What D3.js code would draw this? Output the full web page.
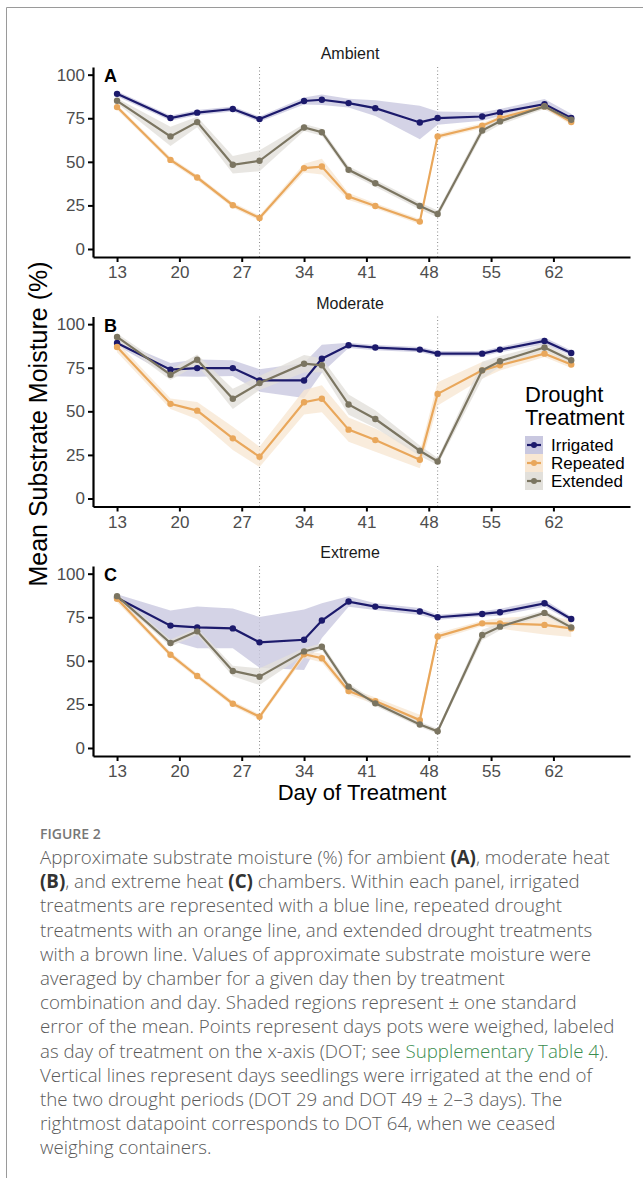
<!DOCTYPE html>
<html>
<head>
<meta charset="utf-8">
<script src="https://cdn.jsdelivr.net/npm/d3@7"></script>
<style>
  body { margin: 0; background: #fff; }
  svg { display: block; }
</style>
</head>
<body>
<div id="chart"></div>
<script>
// days the pots were weighed
const days = [13, 19, 22, 26, 29, 34, 36, 39, 42, 47, 49, 54, 56, 61, 64];
const xTicks = [13, 20, 27, 34, 41, 48, 55, 62];
const yTicks = [0, 25, 50, 75, 100];
const irrigationDays = [29, 49];
const chambers = ["Ambient", "Moderate", "Extreme"];
const letters = ["A", "B", "C"];
const treatments = ["Irrigated", "Repeated", "Extended"];

// mean substrate moisture (%) and standard error
const ambientIrrigated   = [89, 75.1, 78.2, 80.3, 74.5, 84.9, 85.6, 83.7, 80.8, 72.6, 75.1, 76, 78.3, 83.1, 75.1];
const ambientIrrigatedSE = [1.5, 1.5, 1.5, 1.5, 1.5, 2, 3, 2.5, 4.5, 9.6, 3.8, 2.5, 2, 3, 2.5];
const ambientRepeated    = [81.4, 51.1, 41, 25.1, 17.8, 46.4, 47.3, 30.1, 24.7, 15.7, 64.6, 70.7, 75.1, 81.8, 72.8];
const ambientRepeatedSE  = [1.5, 1.5, 1.5, 1.5, 1.5, 2.5, 4.5, 2, 1.5, 1.5, 1.5, 1.5, 1.5, 1.5, 1.5];
const ambientExtended    = [85, 64.6, 72.8, 48.3, 50.6, 69.7, 67, 45.4, 37.7, 24.7, 20.1, 68, 73.2, 81.8, 74.1];
const ambientExtendedSE  = [1.5, 5.5, 3, 5, 6, 2, 2, 2, 2, 2, 2, 2.5, 2, 1.5, 1.5];

const moderateIrrigated   = [89.2, 73.9, 74.8, 74.8, 67.7, 67.7, 80.2, 87.9, 86.6, 85.4, 83.1, 83.1, 85.4, 90.4, 83.5];
const moderateIrrigatedSE = [1.5, 3.8, 5, 4.5, 6.5, 10, 8, 1.5, 1.5, 1.5, 1.5, 1.5, 1.5, 2, 1.5];
const moderateRepeated    = [86.9, 54.3, 50.4, 34.5, 23.9, 55.2, 57.2, 39.5, 33.5, 22.2, 60, 73.5, 76.4, 83.1, 76.9];
const moderateRepeatedSE  = [3, 3, 5, 6.7, 5.8, 7, 7.7, 7, 6.7, 4.8, 6.7, 4.8, 3, 2, 2];
const moderateExtended    = [92.7, 71, 79.6, 57.2, 66.2, 77.3, 76.4, 53.9, 45.6, 27.4, 21.2, 73.5, 78.7, 86.6, 79.3];
const moderateExtendedSE  = [2, 3, 3, 5.8, 4, 5, 4, 5.8, 5, 3, 2, 5, 3, 2, 2];

const extremeIrrigated   = [86.2, 70.2, 69.2, 68.6, 60.6, 62.1, 73.1, 84, 81.1, 78.3, 75, 76.9, 77.9, 83, 74];
const extremeIrrigatedSE = [2, 8.6, 12, 11.4, 14.6, 17.3, 10, 3, 2, 2, 1.5, 1.5, 2, 2, 1.5];
const extremeRepeated    = [85.6, 53.5, 41.3, 25.4, 17.9, 53.8, 51.5, 32.7, 26.9, 16, 64, 71.5, 71.5, 70.6, 68.6];
const extremeRepeatedSE  = [2, 1.5, 1.5, 1.5, 1.5, 2, 2.5, 2, 2, 3, 2, 1.5, 3, 5.5, 5];
const extremeExtended    = [87.1, 60.2, 66.9, 44.2, 40.9, 55.4, 58.1, 35.2, 25.6, 13.5, 9.6, 64.8, 69.6, 77.5, 69.2];
const extremeExtendedSE  = [1.5, 2, 2, 3, 4.8, 2, 2, 2, 1.5, 1.5, 1.5, 3, 2, 1.5, 1.5];

// caption, one array per line: [text, style]
const captionLines = [
  [["Approximate substrate moisture (%) for ambient ", ""], ["(A)", "b"], [", moderate heat", ""]],
  [["(B)", "b"], [", and extreme heat ", ""], ["(C)", "b"], [" chambers. Within each panel, irrigated", ""]],
  [["treatments are represented with a blue line, repeated drought", ""]],
  [["treatments with an orange line, and extended drought treatments", ""]],
  [["with a brown line. Values of approximate substrate moisture were", ""]],
  [["averaged by chamber for a given day then by treatment", ""]],
  [["combination and day. Shaded regions represent \u00b1 one standard", ""]],
  [["error of the mean. Points represent days pots were weighed, labeled", ""]],
  [["as day of treatment on the x-axis (DOT; see ", ""], ["Supplementary Table 4", "g"], [").", ""]],
  [["Vertical lines represent days seedlings were irrigated at the end of", ""]],
  [["the two drought periods (DOT 29 and DOT 49 \u00b1 2\u20133 days). The", ""]],
  [["rightmost datapoint corresponds to DOT 64, when we ceased", ""]],
  [["weighing containers.", ""]]
];

// putting the arrays together per panel
const panelData = [
  [[ambientIrrigated, ambientIrrigatedSE], [ambientRepeated, ambientRepeatedSE], [ambientExtended, ambientExtendedSE]],
  [[moderateIrrigated, moderateIrrigatedSE], [moderateRepeated, moderateRepeatedSE], [moderateExtended, moderateExtendedSE]],
  [[extremeIrrigated, extremeIrrigatedSE], [extremeRepeated, extremeRepeatedSE], [extremeExtended, extremeExtendedSE]]
];

const lineColor = d3.scaleOrdinal(treatments, ["#1c1a6c", "#e9a75b", "#7b7561"]);
const bandColor = d3.scaleOrdinal(treatments, ["#c9c8e0", "#f8e7d3", "#e2e0db"]);

const W = 643, H = 1178;
const panelTop = 67, panelStep = 249.5, panelH = 190;
const left = 93, right = 630;

const svg = d3.select("#chart").append("svg")
    .attr("width", W)
    .attr("height", H)
    .style("font-family", "'Liberation Sans', Arial, sans-serif");

svg.append("rect").attr("width", W).attr("height", H).attr("fill", "#fff");

// card frame
svg.append("path")
    .attr("d", `M6.5,${H} V7.5 H${W}`)
    .attr("fill", "none")
    .attr("stroke", "#9a9a9a")
    .attr("stroke-width", 1);

const xScale = d3.scaleLinear().domain([10.3, 70.6]).range([left, right]);

chambers.forEach((chamber, p) => {
  const top = panelTop + p * panelStep;
  const bottom = top + panelH;
  const yScale = d3.scaleLinear().domain([-4.6, 104.4]).range([bottom, top]);
  const g = svg.append("g");

  // panel title
  g.append("text")
      .attr("x", 350).attr("y", top - 8)
      .attr("text-anchor", "middle")
      .attr("font-size", 16)
      .attr("fill", "#1a1a1a")
      .text(chamber);

  // vertical dotted lines
  g.selectAll(".vline")
    .data(irrigationDays)
    .join("line")
      .attr("x1", d => xScale(d)).attr("x2", d => xScale(d))
      .attr("y1", top).attr("y2", bottom)
      .attr("stroke", "#8a8a8a")
      .attr("stroke-width", 1)
      .attr("stroke-dasharray", "1,2.5");

  const series = treatments.map((t, i) => ({
    name: t,
    values: days.map((d, j) => ({ day: d, mean: panelData[p][i][0][j], se: panelData[p][i][1][j] }))
  }));

  const area = d3.area()
      .x(d => xScale(d.day))
      .y0(d => yScale(d.mean - d.se))
      .y1(d => yScale(d.mean + d.se));

  const line = d3.line()
      .x(d => xScale(d.day))
      .y(d => yScale(d.mean));

  g.selectAll(".band")
    .data(series)
    .join("path")
      .attr("d", d => area(d.values))
      .attr("fill", d => bandColor(d.name))
      .attr("fill-opacity", 0.8);

  series.forEach(s => {
    g.append("path")
        .attr("d", line(s.values))
        .attr("fill", "none")
        .attr("stroke", lineColor(s.name))
        .attr("stroke-width", 2.2);
    g.selectAll(null)
      .data(s.values)
      .join("circle")
        .attr("cx", d => xScale(d.day))
        .attr("cy", d => yScale(d.mean))
        .attr("r", 3.2)
        .attr("fill", lineColor(s.name));
  });

  // axes
  const yAxis = g.append("g")
      .attr("transform", `translate(${left},0)`)
      .call(d3.axisLeft(yScale).tickValues(yTicks).tickSize(5).tickSizeOuter(0));
  const xAxis = g.append("g")
      .attr("transform", `translate(0,${bottom})`)
      .call(d3.axisBottom(xScale).tickValues(xTicks).tickSize(5).tickSizeOuter(0));

  [xAxis, yAxis].forEach(ax => {
    ax.select(".domain").attr("stroke", "#000").attr("stroke-width", 2.2);
    ax.selectAll(".tick line").attr("stroke", "#000").attr("stroke-width", 2);
    ax.selectAll(".tick text")
      .attr("font-size", 17)
      .attr("font-family", "'Liberation Sans', Arial, sans-serif")
      .attr("fill", "#4d4d4d");
  });
  yAxis.selectAll(".tick text").attr("x", -8);
  xAxis.selectAll(".tick text").attr("y", 9);

  // panel letter
  g.append("text")
      .attr("x", 104).attr("y", top + 15)
      .attr("font-size", 18)
      .attr("font-weight", "bold")
      .attr("fill", "#000")
      .text(letters[p]);
});

// axis titles
svg.append("text")
    .attr("transform", "translate(47,424) rotate(-90)")
    .attr("text-anchor", "middle")
    .attr("font-size", 25)
    .attr("fill", "#000")
    .text("Mean Substrate Moisture (%)");

svg.append("text")
    .attr("x", 362).attr("y", 800)
    .attr("text-anchor", "middle")
    .attr("font-size", 22)
    .attr("fill", "#000")
    .text("Day of Treatment");

// legend
const legend = svg.append("g").attr("transform", "translate(525,0)");
legend.append("text").attr("x", 0).attr("y", 402).attr("font-size", 22).text("Drought");
legend.append("text").attr("x", 0).attr("y", 425).attr("font-size", 22).text("Treatment");
treatments.forEach((t, i) => {
  const y = 436 + i * 18;
  legend.append("rect")
      .attr("x", 0).attr("y", y).attr("width", 18).attr("height", 18)
      .attr("fill", bandColor(t));
  legend.append("line")
      .attr("x1", 2).attr("x2", 16).attr("y1", y + 9).attr("y2", y + 9)
      .attr("stroke", lineColor(t)).attr("stroke-width", 2.2);
  legend.append("circle")
      .attr("cx", 9).attr("cy", y + 9).attr("r", 3)
      .attr("fill", lineColor(t));
  legend.append("text")
      .attr("x", 26).attr("y", y + 15)
      .attr("font-size", 17)
      .text(t);
});

// caption
const cap = svg.append("g").style("font-family", "'Open Sans', 'Noto Sans', sans-serif");
cap.append("text")
    .attr("x", 40).attr("y", 839)
    .attr("font-size", 14)
    .attr("font-weight", 600)
    .attr("fill", "#777")
    .text("FIGURE 2");

captionLines.forEach((segs, i) => {
  const t = cap.append("text")
      .attr("x", 40).attr("y", 864 + i * 24.2)
      .attr("font-size", 18.7)
      .attr("font-weight", 300)
      .attr("fill", "#5a5a5a");
  segs.forEach(([txt, st]) => {
    t.append("tspan")
        .attr("font-weight", st === "b" ? "bold" : null)
        .attr("fill", st === "b" ? "#333" : st === "g" ? "#3a8d4f" : null)
        .text(txt);
  });
});
</script>
</body>
</html>
